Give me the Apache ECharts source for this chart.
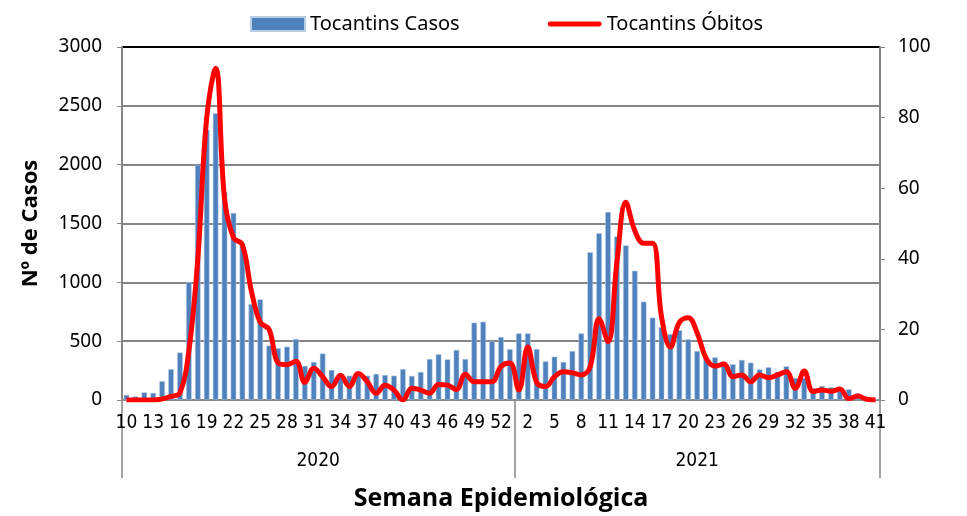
<!DOCTYPE html>
<html>
<head>
<meta charset="utf-8">
<script src="https://cdn.jsdelivr.net/npm/echarts@6/dist/echarts.min.js"></script>
<style>
  html, body { margin: 0; padding: 0; background: #fff; }
  #chart { width: 967px; height: 516px; }
</style>
</head>
<body>
<div id="chart"></div>
<script>
// semanas epidemiologicas: 2020 (10-53) e 2021 (1-41)
var weeks2020 = [10,11,12,13,14,15,16,17,18,19,20,21,22,23,24,25,26,27,28,29,30,31,32,33,34,35,36,37,38,39,40,41,42,43,44,45,46,47,48,49,50,51,52,53];
var weeks2021 = [1,2,3,4,5,6,7,8,9,10,11,12,13,14,15,16,17,18,19,20,21,22,23,24,25,26,27,28,29,30,31,32,33,34,35,36,37,38,39,40,41];
var years = ['2020', '2021'];

var casos2020 = [43,30,65,60,160,262,403,1000,1997,2295,2436,1765,1590,1330,815,855,462,440,453,518,290,323,395,255,227,207,235,207,221,212,207,263,204,238,348,388,345,425,348,657,665,501,535,432];
var casos2021 = [566,566,433,328,368,323,416,566,1255,1417,1597,1390,1313,1098,836,700,620,560,592,516,416,360,362,326,303,340,317,260,278,240,286,187,187,100,119,108,85,91,57,25,5];

var obitos2020 = [0,0,0,0,0.3,1,2,14,40,80,94,57,46,44,31,22,20,10.5,10,11,5,9,6.6,3.8,7,3.8,7.5,5.2,1.9,4.2,2.8,0,3.3,2.8,1.9,4.4,4.2,3,7.3,5.2,5.2,5.2,9.5,10.5];
var obitos2021 = [2.8,15,5,3.8,6.6,8,7.7,7.1,9.4,23,16.5,39,56,48,44.4,44.4,23.6,15,22,23.3,19,11.8,9.6,10.2,6.6,7.1,5.2,7.1,6.3,7.1,8,3.3,8.2,2.4,2.8,2.5,3.1,0.4,1.1,0.2,0];

var casosTicks = [0, 500, 1000, 1500, 2000, 2500, 3000];
var obitosTicks = [0, 20, 40, 60, 80, 100];

var categories = weeks2020.concat(weeks2021).map(String);
var casos = casos2020.concat(casos2021);
var obitos = obitos2020.concat(obitos2021);
// limites dos anos no eixo (em numero de semanas)
var yearBounds = [0, weeks2020.length, categories.length];
var yearCenters = [weeks2020.length / 2, weeks2020.length + weeks2021.length / 2];

var font = "'Liberation Sans Narrow', 'DejaVu Sans Condensed', 'Liberation Sans', sans-serif";
var numFont = "'Noto Sans', sans-serif";
var gray = '#868686';
// icone da legenda: traco vermelho grosso dentro da caixa 54x14
var lineIcon = 'path://M0,0 M54,14 M2,4.5 L52,4.5 A2.5,2.5 0 0 1 52,9.5 L2,9.5 A2.5,2.5 0 0 1 2,4.5 Z';

var chart = echarts.init(document.getElementById('chart'));

chart.setOption({
    animation: false,
    backgroundColor: '#fff',
    textStyle: { fontFamily: font, color: '#000' },
    legend: {
        top: 9,
        left: 245,
        itemGap: 88,
        itemWidth: 54,
        itemHeight: 14,
        textStyle: { fontSize: 20, fontFamily: numFont, color: '#000' },
        data: [
            { name: 'Tocantins Casos', icon: 'rect' },
            { name: 'Tocantins Óbitos', icon: lineIcon }
        ]
    },
    grid: { left: 122, right: 87, top: 47, bottom: 116 },
    xAxis: [{
        type: 'category',
        data: categories,
        boundaryGap: true,
        axisLine: { lineStyle: { color: gray, width: 2 } },
        axisTick: { show: false },
        axisLabel: {
            interval: 2,
            fontSize: 19,
            margin: 14,
            color: '#000',
            fontFamily: font
        },
        name: 'Semana Epidemiológica',
        nameLocation: 'middle',
        nameGap: 86,
        nameTextStyle: { fontSize: 25, fontWeight: 'bold', color: '#000', fontFamily: "'Open Sans', sans-serif" }
    }, {
        type: 'value',
        position: 'bottom',
        min: 0,
        max: categories.length,
        axisLine: { show: false },
        splitLine: { show: false },
        axisTick: {
            show: true,
            customValues: yearBounds,
            length: 78,
            lineStyle: { color: gray, width: 1.5 }
        },
        axisLabel: {
            customValues: yearCenters,
            margin: 52,
            fontSize: 19,
            color: '#000',
            fontFamily: font,
            formatter: function (v) {
                return v < weeks2020.length ? years[0] : years[1];
            }
        }
    }],
    yAxis: [{
        type: 'value',
        min: casosTicks[0],
        max: casosTicks[casosTicks.length - 1],
        interval: 500,
        axisLine: { show: true, lineStyle: { color: gray, width: 2 } },
        axisTick: { show: true, length: 5, lineStyle: { color: gray } },
        axisLabel: {
            fontSize: 19, margin: 20, color: '#000', fontFamily: numFont,
            formatter: function (v) { return String(v); }
        },
        splitLine: {
            lineStyle: {
                color: [gray, gray, gray, gray, gray, gray, '#000'],
                width: 2
            }
        },
        name: 'Nº de Casos',
        nameLocation: 'middle',
        nameGap: 80,
        nameTextStyle: { fontSize: 22, fontWeight: 'bold', color: '#000', fontFamily: "'Open Sans', sans-serif" }
    }, {
        type: 'value',
        min: obitosTicks[0],
        max: obitosTicks[obitosTicks.length - 1],
        interval: 20,
        position: 'right',
        axisLine: { show: true, lineStyle: { color: gray, width: 2 } },
        axisTick: { show: true, length: 5, lineStyle: { color: gray } },
        axisLabel: {
            fontSize: 19, margin: 18, color: '#000', fontFamily: numFont,
            formatter: function (v) { return String(v); }
        },
        splitLine: { show: false }
    }],
    series: [{
        name: 'Tocantins Casos',
        type: 'bar',
        xAxisIndex: 0,
        yAxisIndex: 0,
        data: casos,
        barCategoryGap: '38%',
        itemStyle: { color: '#4F81BD', borderColor: '#B9CDE5', borderWidth: 0.5 }
    }, {
        name: 'Tocantins Óbitos',
        type: 'line',
        xAxisIndex: 0,
        yAxisIndex: 1,
        data: obitos,
        smooth: 0.4,
        symbol: 'none',
        lineStyle: { color: '#FF0000', width: 5 },
        itemStyle: { color: '#FF0000' },
        z: 5
    }]
});
</script>
</body>
</html>
